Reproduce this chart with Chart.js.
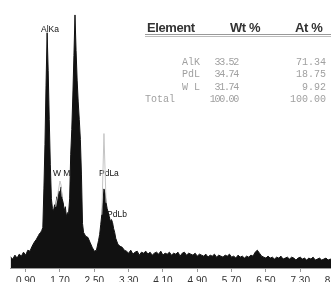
<!DOCTYPE html>
<html><head><meta charset="utf-8">
<script src="https://cdn.jsdelivr.net/npm/chart.js@4"></script>
<style>
html,body{margin:0;padding:0;background:#fff;overflow:hidden;}
#wrap{position:relative;width:331px;height:282px;overflow:hidden;background:#fff;}
#c{position:absolute;left:0;top:0;}
.t{position:absolute;white-space:nowrap;}
.hd{font-family:"Liberation Sans",Arial,sans-serif;font-weight:bold;font-size:13px;line-height:13px;color:#333;letter-spacing:-0.4px;}
.cell{font-family:"Liberation Mono","DejaVu Sans Mono",monospace;font-size:10px;line-height:10px;color:#a0a0a0;text-align:right;}
.narrow{letter-spacing:-1.3px;}
#rule{position:absolute;left:145px;top:34px;width:190px;border-top:1px solid #999;border-bottom:1px solid #bbb;height:1px;}
</style></head><body>
<div id="wrap"><canvas id="c" width="350" height="295"></canvas><div id="table"></div></div>
<script>
const energies = [0.55,0.60,0.65,0.70,0.75,0.80,0.85,0.90,0.95,1.00,1.05,1.10,1.15,1.20,
1.225,1.25,1.275,1.30,1.325,1.35,1.375,1.40,1.425,1.45,1.475,1.50,1.525,1.55,1.575,1.60,1.625,1.65,1.675,1.70,1.725,1.75,1.775,1.80,1.825,1.85,1.875,1.90,1.925,1.95,1.975,2.00,2.025,2.05,2.075,2.10,2.125,2.15,2.175,2.20,2.225,2.25,
2.30,2.35,2.40,2.45,2.50,2.55,2.60,
2.625,2.65,2.675,2.70,2.725,2.75,2.775,2.80,2.825,2.85,2.875,2.90,2.925,2.95,2.975,3.00,
3.05,3.10,3.15,3.20,3.25,3.30,3.35,3.40,3.45,3.50,3.55,3.60,3.65,3.70,3.75,3.80,3.85,3.90,3.95,4.00,
4.05,4.10,4.15,4.20,4.25,4.30,4.35,4.40,4.45,4.50,4.55,4.60,4.65,4.70,4.75,4.80,4.85,4.90,4.95,5.00,
5.05,5.10,5.15,5.20,5.25,5.30,5.35,5.40,5.45,5.50,5.55,5.60,5.65,5.70,5.75,5.80,5.85,5.90,5.95,6.00,
6.05,6.10,6.15,6.20,6.25,6.30,6.35,6.40,6.45,6.50,6.55,6.60,6.65,6.70,6.75,6.80,6.85,6.90,6.95,7.00,
7.05,7.10,7.15,7.20,7.25,7.30,7.35,7.40,7.45,7.50,7.55,7.60,7.65,7.70,7.75,7.80,7.85,7.90,7.95,8.00,
8.05,8.10,8.15,8.20,8.25,8.30,8.35,8.40,8.45];
const counts = [11,9,13,10,14,12,16,13,18,17,22,26,29,33,
35,36,38,41,80,125,185,238,200,150,105,70,60,58,64,62,72,68,78,74,82,70,66,58,62,52,56,55,70,115,140,175,215,256,220,190,168,150,130,95,45,36,
32,31,26,21,17,18,28,
34,44,54,66,80,76,66,60,56,52,47,49,46,40,36,30,
24,22,21,18,17,15,18,14,16,17,13,16,15,17,14,16,13,15,16,14,
17,13,15,14,16,13,15,14,16,12,15,16,13,15,14,13,15,12,14,13,
12,14,11,13,12,14,11,13,12,11,13,12,14,11,12,10,13,11,12,10,
12,11,13,12,16,18,15,12,11,10,12,10,11,9,11,10,12,9,10,11,
9,11,10,8,10,11,9,10,8,10,9,11,8,9,10,8,9,10,8,9,
8,10,8,9,8,9,9,8,9];
const overlayEnergies = [1.60,1.65,1.70,1.725,1.75,2.00,2.675,2.70,2.725,2.75,2.775];
const overlayCounts = [62,75,88,84,72,null,54,95,136,100,66];
const tickValues = [0.90,1.70,2.50,3.30,4.10,4.90,5.70,6.50,7.30,8.10];
const peakLabels = ['AlKa','W Ma','PdLa','PdLb'];
const peakLabelEnergy = [1.257,1.537,2.609,2.796];
const peakLabelCount = [241,95,95,54];
const tableHeader = ['Element','Wt %','At %'];
const elements = ['AlK','PdL','W L','Total'];
const wtPercent = ['33.52','34.74','31.74','100.00'];
const atPercent = ['71.34','18.75','9.92','100.00'];

// table (text)
const tbl = document.getElementById('table');
function addText(cls, txt, left, top, right){
  const d = document.createElement('div');
  d.className = 't ' + cls; d.textContent = txt;
  if (right !== undefined) { d.style.right = right + 'px'; } else { d.style.left = left + 'px'; }
  d.style.top = top + 'px';
  tbl.appendChild(d);
}
addText('hd', tableHeader[0], 147, 21);
addText('hd', tableHeader[1], 230, 21);
addText('hd', tableHeader[2], 295, 21);
const rule = document.createElement('div'); rule.id = 'rule'; tbl.appendChild(rule);
const rowTops = [58, 70, 83, 95];
elements.forEach((el, i) => {
  if (i === elements.length - 1) addText('cell', el, 145, rowTops[i]);
  else addText('cell', el, 0, rowTops[i], 331 - 200);
  addText('cell narrow', wtPercent[i], 0, rowTops[i], 331 - 238);
  addText('cell', atPercent[i], 0, rowTops[i], 331 - 326);
});

const peakLabelPlugin = {
  id: 'peakLabels',
  beforeDatasetsDraw(chart){
    const {ctx, scales:{x, y}} = chart;
    ctx.save();
    ctx.font = '8.5px "Liberation Sans", Arial, sans-serif';
    ctx.fillStyle = '#111';
    ctx.textAlign = 'left';
    ctx.textBaseline = 'middle';
    peakLabels.forEach((t, i) => {
      ctx.fillText(t, x.getPixelForValue(peakLabelEnergy[i]), y.getPixelForValue(peakLabelCount[i]));
    });
    ctx.restore();
  }
};

new Chart(document.getElementById('c'), {
  type: 'line',
  data: {
    datasets: [
      {
        data: overlayEnergies.map((e, i) => ({x: e, y: overlayCounts[i]})),
        borderColor: '#c4c4c4', borderWidth: 1, pointRadius: 0, fill: false, spanGaps: false, order: 0
      },
      {
        data: energies.map((e, i) => ({x: e, y: counts[i]})),
        borderColor: '#111', backgroundColor: '#111', borderWidth: 1, pointRadius: 0,
        fill: 'origin', tension: 0, order: 1
      }
    ]
  },
  options: {
    responsive: false, animation: false, devicePixelRatio: 1,
    layout: {padding: {left: 10, top: 10, right: 0, bottom: 5}},
    plugins: {legend: {display: false}, tooltip: {enabled: false}},
    scales: {
      x: {
        type: 'linear', min: 0.535, max: 8.46,
        afterBuildTicks: (s) => { s.ticks = tickValues.map(v => ({value: v})); },
        ticks: {
          callback: (v) => Number(v).toFixed(2),
          font: {size: 10, family: '"Liberation Sans", Arial, sans-serif'},
          color: '#333', padding: 3, autoSkip: false, maxRotation: 0
        },
        grid: {drawOnChartArea: false, tickLength: 4, color: '#999'},
        border: {color: '#999'}
      },
      y: {display: false, min: 0, max: 261}
    }
  },
  plugins: [peakLabelPlugin]
});
</script>
</body></html>
